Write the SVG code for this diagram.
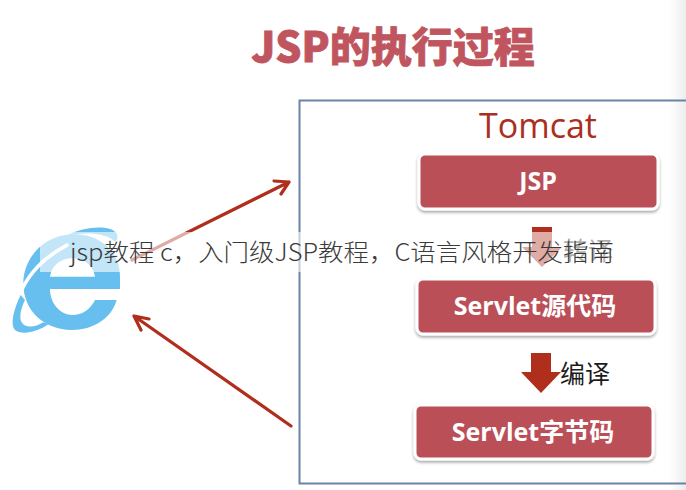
<svg xmlns="http://www.w3.org/2000/svg" width="686" height="490" viewBox="0 0 686 490">
<style>
.cjk{font-family:"Noto Sans CJK SC","Liberation Sans",sans-serif}
.box{fill:#bb5058;stroke:#fff;stroke-width:3;filter:url(#sh)}
.lab{font-family:"Open Sans","Noto Sans CJK SC",sans-serif;font-weight:700;font-size:25px;fill:#fff;text-anchor:middle}
.arr{stroke:#b02e1c;stroke-width:3.2;fill:none;stroke-linecap:round;stroke-linejoin:round}
</style>
<defs>
<filter id="sh" x="-5%" y="-15%" width="110%" height="135%"><feDropShadow dx="0" dy="2" stdDeviation="1.5" flood-color="#000" flood-opacity=".35"/></filter>
<filter id="soft" x="-5%" y="-5%" width="110%" height="110%"><feGaussianBlur stdDeviation=".5"/></filter>
<linearGradient id="edge" x1="0" x2="1" y1="0" y2="0"><stop offset="0" stop-color="#f2f2f2" stop-opacity="0"/><stop offset="1" stop-color="#ececec"/></linearGradient>
</defs>
<rect width="686" height="490" fill="#fff"/>
<rect x="668" y="0" width="18" height="490" fill="url(#edge)"/>
<text id="title" class="cjk" x="393" y="62" font-size="41" font-weight="900" fill="#c05560" text-anchor="middle" stroke="#c05560" stroke-width=".8">JSP的执行过程</text>
<rect id="tomcat-frame" x="299.500" y="100.500" width="400" height="383" fill="none" stroke="#6b83a6" stroke-width="2"/>
<text id="tomcat-label" x="538" y="138" font-family="Open Sans,Liberation Sans,sans-serif" font-size="34" fill="#ab2f1e" text-anchor="middle">Tomcat</text>
<g id="ie" filter="url(#soft)" transform="translate(0 215) scale(.3333)" fill="#66bfee">
<path fill-rule="evenodd" d="M360 185C360 110 300 55 215 58C130 62 70 130 70 205C70 290 135 345 215 345C280 345 335 310 350 255L285 255C270 285 245 300 218 300C180 300 150 265 150 222L360 222ZM150 185C155 150 185 130 215 130C250 130 280 150 285 185Z"/>
<path d="M200 62C250 35 320 30 345 50C355 58 355 72 345 80C320 55 260 50 200 62Z"/>
<path d="M62 240C40 285 30 330 45 345C65 362 115 350 145 328L130 322C105 338 75 340 65 322C55 305 65 275 75 255Z"/>
<path d="M62 230C90 172 130 128 205 88" fill="none" stroke="#fff" stroke-width="11"/>
</g>
<g id="connectors">
<path class="arr" d="M132 260 289 182M274 181 289 182 281 194"/>
<path class="arr" d="M291 426 134 316M149 319 134 316 141 330"/>
<path fill="#b02e1c" d="M532 227h20v20h10l-20 20-20-20h10z"/>
<path fill="#b02e1c" d="M531 353h20v19h10l-20 21-20-21h10z"/>
</g>
<g id="node-jsp">
<rect class="box" x="419" y="154" width="239" height="55" rx="6"/>
<text class="lab" x="538" y="190">JSP</text>
</g>
<text id="label-convert" class="cjk" x="588" y="260" font-size="25" fill="#333" text-anchor="middle">转译</text>
<g id="node-source">
<rect class="box" x="417" y="279" width="238" height="55" rx="6"/>
<text class="lab" x="535" y="315">Servlet源代码</text>
</g>
<text id="label-compile" class="cjk" x="585" y="383" font-size="25" fill="#1c1c1c" text-anchor="middle">编译</text>
<g id="node-bytecode">
<rect class="box" x="415" y="405" width="238" height="54" rx="6"/>
<text class="lab" x="533" y="441">Servlet字节码</text>
</g>
<g id="watermark">
<rect x="40" y="232" width="606" height="40" fill="#fff" fill-opacity=".6"/>
<text class="cjk" x="342" y="261" font-size="24" font-weight="300" fill="#3a3a3a" text-anchor="middle" textLength="544" lengthAdjust="spacingAndGlyphs">jsp教程 c，入门级JSP教程，C语言风格开发指南</text>
</g>
</svg>
